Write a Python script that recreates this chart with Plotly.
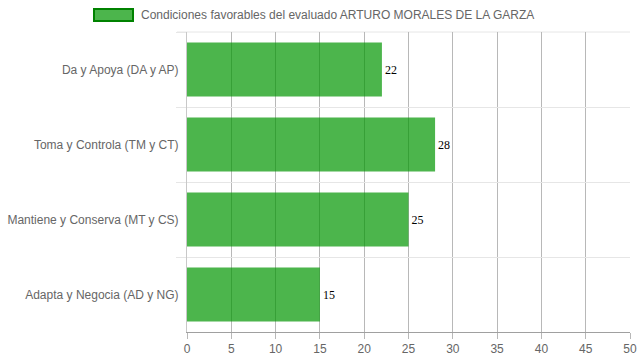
import plotly.graph_objects as go

categories = ["Da y Apoya (DA y AP)", "Toma y Controla (TM y CT)",
              "Mantiene y Conserva (MT y CS)", "Adapta y Negocia (AD y NG)"]
values = [22, 28, 25, 15]
series_name = "Condiciones favorables del evaluado ARTURO MORALES DE LA GARZA"
x_ticks = [0, 5, 10, 15, 20, 25, 30, 35, 40, 45, 50]

W, H = 639, 360
ml, mr, mt, mb = 187, 9, 32, 28
pw = W - ml - mr
ph = H - mt - mb

fig = go.Figure()
fig.add_trace(go.Bar(
    y=categories, x=values, orientation="h", name=series_name,
    marker=dict(color="rgba(0,150,0,0.7)", line=dict(width=0)),
    width=0.72,
    text=[str(v) for v in values], textposition="outside",
    textfont=dict(family="Liberation Serif, Times New Roman, serif", size=12, color="#000"),
    cliponaxis=False, showlegend=False, hoverinfo="skip",
))

def px_x(p):
    return (p - ml) / pw
def px_y(p):
    return 1 - (p - mt) / ph

# legend drawn as box + label
fig.add_shape(type="rect", xref="paper", yref="paper",
              x0=px_x(94), x1=px_x(133), y0=px_y(21), y1=px_y(9),
              fillcolor="rgba(0,150,0,0.7)", line=dict(color="rgb(0,130,0)", width=2))
fig.add_annotation(xref="paper", yref="paper", x=px_x(139), y=px_y(15),
                   xanchor="left", yanchor="middle", showarrow=False,
                   text=series_name,
                   font=dict(family="Liberation Sans, Arial, sans-serif", size=12, color="#666"))
# top boundary grid line (category boundary)
fig.add_shape(type="line", xref="paper", yref="paper",
              x0=px_x(177), x1=1, y0=1, y1=1,
              line=dict(color="#e6e6e6", width=1), layer="below")

fig.update_layout(
    width=W, height=H,
    margin=dict(l=ml, r=mr, t=mt, b=mb, autoexpand=False),
    paper_bgcolor="white", plot_bgcolor="white",
    font=dict(family="Liberation Sans, Arial, sans-serif", size=12, color="#666"),
    xaxis=dict(range=[0, 50], tickvals=x_ticks, showgrid=True, automargin=False,
               gridcolor="#b8b8b8", gridwidth=1,
               ticks="outside", ticklen=6, tickcolor="#b8b8b8",
               showline=True, linecolor="#a0a0a0", linewidth=1,
               zeroline=False, layer="below traces",
               tickfont=dict(size=12, color="#666")),
    yaxis=dict(autorange="reversed", tickson="boundaries", showgrid=True, automargin=False,
               gridcolor="#e6e6e6", gridwidth=1,
               ticks="outside", ticklen=10, tickcolor="#e6e6e6",
               ticklabelstandoff=5,
               showline=True, linecolor="#c8c8c8", linewidth=1,
               zeroline=False, layer="below traces",
               tickfont=dict(size=12, color="#666")),
)

fig.write_html("out.html", config={"displayModeBar": False},
               post_script="document.body.style.margin='0';")
